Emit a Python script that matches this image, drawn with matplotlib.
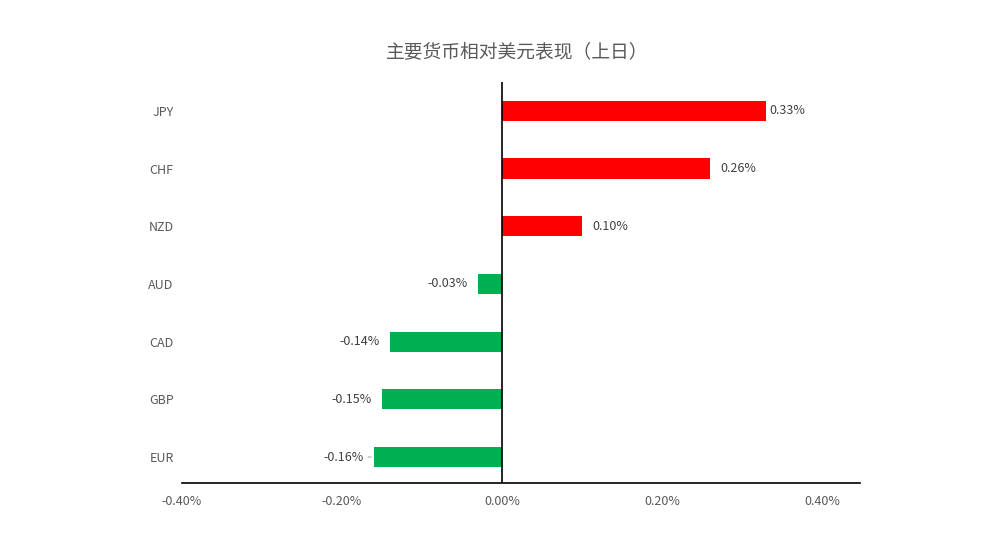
import numpy as np
import matplotlib.pyplot as plt
from matplotlib.ticker import FuncFormatter

plt.rcParams['font.family'] = ['Noto Sans CJK SC', 'DejaVu Sans']

# data (top to bottom as in the chart)
currencies = ['JPY', 'CHF', 'NZD', 'AUD', 'CAD', 'GBP', 'EUR']
changes = [0.33, 0.26, 0.10, -0.03, -0.14, -0.15, -0.16]
title = '主要货币相对美元表现（上日）'
xticks = [-0.40, -0.20, 0.00, 0.20, 0.40]

red = '#FF0000'
green = '#00B050'
text_col = '#595959'

fig = plt.figure(figsize=(9.82, 5.42), dpi=100)
ax = fig.add_axes([0.1853, 0.1089, 0.6905, 0.7398])

ypos = np.arange(len(currencies))[::-1]
colors = [red if v >= 0 else green for v in changes]
ax.barh(ypos, changes, height=0.35, color=colors, zorder=2)

# data labels
for y, v in zip(ypos, changes):
    lab = '%.2f%%' % v
    if v >= 0:
        off = 3 if v > 0.3 else 10
        ax.annotate(lab, (v, y), xytext=(off * 0.72, 0), textcoords='offset points',
                    ha='left', va='center', fontsize=9, color='#404040')
    else:
        ax.annotate(lab, (v, y), xytext=(-10 * 0.72, 0), textcoords='offset points',
                    ha='right', va='center', fontsize=9, color='#404040')

# small leader line at EUR label
i = currencies.index('EUR')
ax.annotate('', xy=(changes[i], ypos[i]), xytext=(changes[i] - 0.011, ypos[i]),
            arrowprops=dict(arrowstyle='-', color='#a6a6a6', lw=0.8))

ax.axvline(0, color='black', lw=1.2, zorder=3)

ax.set_xlim(-0.40, 0.4475)
ax.set_ylim(-0.45, 6.5)
ax.set_xticks(xticks)
ax.xaxis.set_major_formatter(FuncFormatter(lambda x, p: '%.2f%%' % x))
ax.set_yticks(ypos)
ax.set_yticklabels(currencies)
ax.tick_params(axis='x', length=0, pad=9, labelsize=9, labelcolor=text_col)
ax.tick_params(axis='y', length=0, pad=6, labelsize=9, labelcolor=text_col)

for s in ['top', 'right', 'left']:
    ax.spines[s].set_visible(False)
ax.spines['bottom'].set_color('black')
ax.spines['bottom'].set_linewidth(1.2)

fig.text(0.5265, 0.904, title, ha='center', va='center', fontsize=13.5, color=text_col)

fig.savefig('out.png', dpi=100)
